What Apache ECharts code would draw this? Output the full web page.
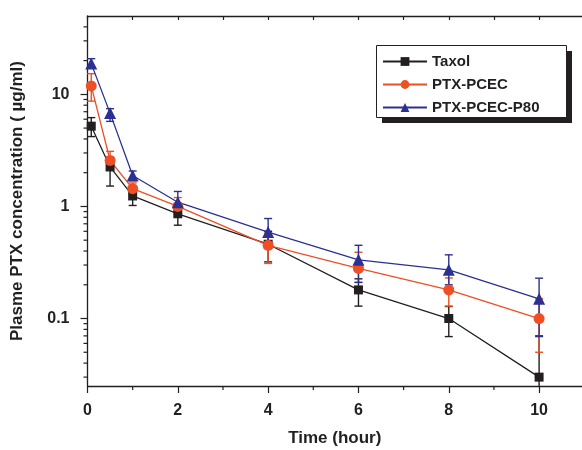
<!DOCTYPE html>
<html>
<head>
<meta charset="utf-8">
<title>Plasma PTX concentration</title>
<script src="https://cdn.jsdelivr.net/npm/echarts@6/dist/echarts.min.js"></script>
<style>
html,body{margin:0;padding:0;background:#fff;}
#chart{width:582px;height:450px;}
</style>
</head>
<body>
<div id="chart"></div>
<script>
// 数据
var times = [0.083, 0.5, 1, 2, 4, 6, 8, 10];

var taxol   = [5.2, 2.25, 1.24, 0.86, 0.46, 0.18, 0.10, 0.03];
var taxolHi = [6.2, 2.75, 1.49, 1.06, 0.60, 0.226, 0.128, 0.07];
var taxolLo = [4.2, 1.52, 1.02, 0.68, 0.32, 0.129, 0.069, null];

var pcec    = [11.9, 2.57, 1.44, 1.0, 0.45, 0.28, 0.18, 0.10];
var pcecHi  = [15.3, 3.1, 1.62, 1.2, 0.58, 0.39, 0.23, 0.15];
var pcecLo  = [8.7, 2.2, 1.3, 0.85, 0.31, 0.21, 0.129, 0.05];

var p80     = [18.8, 6.8, 1.89, 1.09, 0.59, 0.334, 0.272, 0.15];
var p80Hi   = [20.8, 7.45, 2.07, 1.36, 0.78, 0.45, 0.37, 0.229];
var p80Lo   = [17.5, 5.74, 1.7, 0.88, 0.44, 0.21, 0.2, 0.069];

var names = ['Taxol', 'PTX-PCEC', 'PTX-PCEC-P80'];

// 刻度
var xMajorTicks = [0, 2, 4, 6, 8, 10];
var xMinorTicks = [1, 3, 5, 7, 9];
var xTopTicks = [0, 1, 2, 3, 4, 5, 6, 7, 8, 9, 10];
var yMajorTicks = [0.1, 1, 10];
var yMinorTicks = [0.03, 0.04, 0.05, 0.06, 0.07, 0.08, 0.09,
                   0.2, 0.3, 0.4, 0.5, 0.6, 0.7, 0.8, 0.9,
                   2, 3, 4, 5, 6, 7, 8, 9,
                   20, 30, 40];

var font = '"Liberation Sans", Arial, sans-serif';
var ink = '#231f20';
var colors = [ink, '#ee4f24', '#2b3192'];

function pairs(vals) {
    return times.map(function (t, i) { return [t, vals[i]]; });
}
function errData(hi, lo) {
    return times.map(function (t, i) { return [t, hi[i], lo[i]]; });
}

// 误差棒
function errSeries(hi, lo, color) {
    return {
        type: 'custom',
        z: 1,
        silent: true,
        clip: false,
        data: errData(hi, lo),
        renderItem: function (params, api) {
            var t = api.value(0);
            var h = api.value(1);
            var l = api.value(2);
            var noLo = (l === null || isNaN(l));
            var top = api.coord([t, h]);
            var bot = noLo ? api.coord([t, 0.025]) : api.coord([t, l]);
            var w = 4;
            var st = {stroke: color, lineWidth: 1.4};
            var kids = [
                {type: 'line', shape: {x1: top[0], y1: top[1], x2: bot[0], y2: bot[1]}, style: st},
                {type: 'line', shape: {x1: top[0] - w, y1: top[1], x2: top[0] + w, y2: top[1]}, style: st}
            ];
            if (!noLo) {
                kids.push({type: 'line', shape: {x1: bot[0] - w, y1: bot[1], x2: bot[0] + w, y2: bot[1]}, style: st});
            }
            return {type: 'group', children: kids};
        }
    };
}

// 坐标轴上的小刻度
function tickSeries(list, isY, len) {
    return {
        type: 'custom',
        silent: true,
        clip: false,
        z: 5,
        data: list.map(function (v) { return isY ? [0, v] : [v, 0.025]; }),
        renderItem: function (params, api) {
            var p = api.coord([api.value(0), api.value(1)]);
            var shape = isY ? {x1: p[0] - len, y1: p[1], x2: p[0], y2: p[1]}
                            : {x1: p[0], y1: p[1], x2: p[0], y2: p[1] + len};
            return {type: 'line', shape: shape, style: {stroke: ink, lineWidth: 1.2}};
        }
    };
}

function lineSeries(name, vals, color, symbol, size) {
    return {
        name: name,
        type: 'line',
        z: 3,
        data: pairs(vals),
        symbol: symbol,
        symbolSize: size,
        showSymbol: true,
        itemStyle: {color: color},
        lineStyle: {color: color, width: 1.3}
    };
}

var myChart = echarts.init(document.getElementById('chart'), null, {renderer: 'canvas'});

var option = {
    animation: false,
    backgroundColor: '#fff',
    textStyle: {fontFamily: font},
    grid: {left: 87.5, top: 16, right: 0, bottom: 64, outerBoundsMode: 'none', containLabel: false},
    // 图例的框和阴影
    graphic: [
        {type: 'rect', left: 382, top: 51, z: 0, silent: true,
         shape: {width: 190, height: 72}, style: {fill: ink}},
        {type: 'rect', left: 376, top: 45, z: 1, silent: true,
         shape: {width: 190, height: 72}, style: {fill: '#fff', stroke: ink, lineWidth: 1}}
    ],
    legend: {
        data: names,
        orient: 'vertical',
        left: 376,
        top: 46,
        z: 10,
        padding: [8, 24, 8, 6],
        itemGap: 8,
        itemWidth: 44,
        itemHeight: 11,
        textStyle: {fontFamily: font, fontWeight: 'bold', fontSize: 15, color: ink}
    },
    xAxis: [{
        type: 'value',
        min: 0,
        max: 10.95,
        name: 'Time (hour)',
        nameLocation: 'middle',
        nameGap: 44,
        nameTextStyle: {fontFamily: font, fontWeight: 'bold', fontSize: 17, color: ink},
        axisLine: {lineStyle: {color: ink, width: 1.3}},
        axisTick: {show: true, length: 7, inside: false, customValues: xMajorTicks,
                   lineStyle: {color: ink, width: 1.2}},
        axisLabel: {
            margin: 17, customValues: xMajorTicks,
            fontFamily: font, fontWeight: 'bold', fontSize: 16, color: ink
        },
        splitLine: {show: false}
    }, {
        type: 'value',
        position: 'top',
        min: 0,
        max: 10.95,
        axisLine: {lineStyle: {color: ink, width: 1.3}},
        axisTick: {show: true, inside: true, length: 4, customValues: xTopTicks,
                   lineStyle: {color: ink, width: 1.2}},
        axisLabel: {show: false},
        splitLine: {show: false}
    }],
    yAxis: {
        type: 'log',
        logBase: 10,
        min: 0.025,
        max: 50,
        name: 'Plasme PTX concentration ( \u00b5g/ml)',
        nameLocation: 'middle',
        nameGap: 62,
        nameTextStyle: {fontFamily: font, fontWeight: 'bold', fontSize: 17, color: ink},
        axisLine: {show: true, lineStyle: {color: ink, width: 1.3}},
        axisTick: {show: true, length: 7, customValues: yMajorTicks,
                   lineStyle: {color: ink, width: 1.2}},
        axisLabel: {
            margin: 18, customValues: yMajorTicks,
            fontFamily: font, fontWeight: 'bold', fontSize: 16, color: ink
        },
        splitLine: {show: false}
    },
    series: [
        errSeries(taxolHi, taxolLo, colors[0]),
        errSeries(pcecHi, pcecLo, colors[1]),
        errSeries(p80Hi, p80Lo, colors[2]),
        lineSeries(names[0], taxol, colors[0], 'rect', 9),
        lineSeries(names[1], pcec, colors[1], 'circle', 11),
        lineSeries(names[2], p80, colors[2], 'triangle', 12),
        tickSeries(yMinorTicks, true, 4),
        tickSeries(xMinorTicks, false, 4)
    ]
};

myChart.setOption(option);
</script>
</body>
</html>
